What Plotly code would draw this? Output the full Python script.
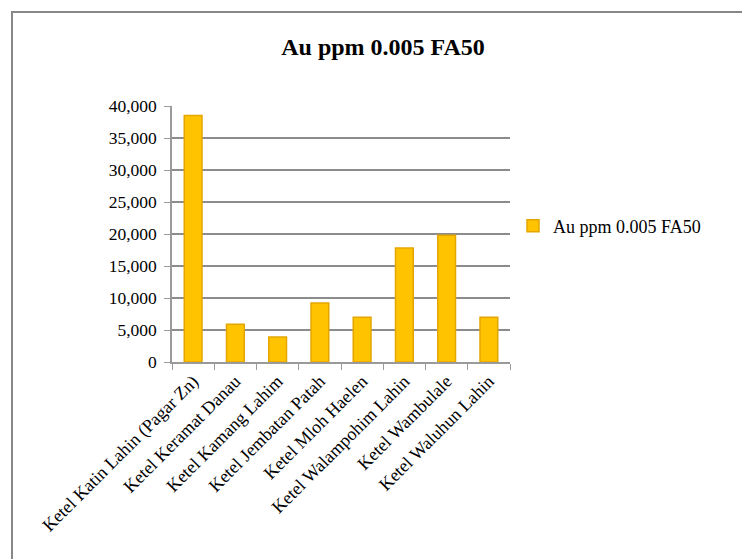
import plotly.graph_objects as go

categories = ["Ketel Katin Lahin (Pagar Zn)", "Ketel Keramat Danau", "Ketel Kamang Lahim",
              "Ketel Jembatan Patah", "Ketel Mloh Haelen", "Ketel Walampohim Lahin",
              "Ketel Wambulale", "Ketel Waluhun Lahin"]
values = [38500, 5900, 3900, 9200, 7000, 17800, 19800, 7000]
series_name = "Au ppm 0.005 FA50"
y_ticks = [0, 5000, 10000, 15000, 20000, 25000, 30000, 35000, 40000]
y_tick_labels = ["0", "5,000", "10,000", "15,000", "20,000", "25,000", "30,000", "35,000", "40,000"]

W, H = 742, 559
L, R, T, B = 172, 232, 106, 197
pw, ph = W - L - R, H - T - B

def px_x(p):
    return (p - L) / pw

def px_y(p):
    return (H - B - p) / ph

font = "Liberation Serif, Times New Roman, serif"

fig = go.Figure()
fig.add_trace(go.Bar(
    x=categories, y=values, name=series_name,
    marker=dict(color="#FFC300", line=dict(color="#E3A600", width=1.5)),
    showlegend=True,
))

fig.update_layout(
    width=W, height=H,
    margin=dict(l=L, r=R, t=T, b=B),
    paper_bgcolor="white", plot_bgcolor="white",
    bargap=0.58,
    font=dict(family=font, size=18, color="black"),
    title=dict(text="<b>" + series_name + "</b>", x=383 / W, xref="container",
               y=1 - 47 / H, yref="container", xanchor="center", yanchor="middle",
               font=dict(family=font, size=24, color="black")),
    showlegend=True,
    legend=dict(x=px_x(513), y=px_y(226), xref="paper", yref="paper",
                xanchor="left", yanchor="middle", itemwidth=30,
                font=dict(family=font, size=18, color="black"),
                bgcolor="rgba(0,0,0,0)"),
    xaxis=dict(type="category", showgrid=False, showline=True, linecolor="#9a9a9a",
               linewidth=1.5, ticks="outside", tickson="boundaries", tickcolor="#9a9a9a",
               ticklen=6, tickangle=-45, tickfont=dict(family=font, size=18)),
    yaxis=dict(range=[0, 40000], tickvals=y_ticks, ticktext=y_tick_labels,
               showgrid=True, gridcolor="#8c8c8c", gridwidth=1.5, showline=True,
               linecolor="#9a9a9a", linewidth=1.5, ticks="outside", tickcolor="#9a9a9a",
               ticklen=6, ticklabelstandoff=4, zeroline=False,
               tickfont=dict(family=font, size=17.5)),
    shapes=[dict(type="rect", xref="paper", yref="paper",
                 x0=px_x(12), x1=px_x(760), y0=px_y(12), y1=px_y(580),
                 line=dict(color="#878787", width=2), fillcolor="rgba(0,0,0,0)",
                 layer="above")],
)

fig.write_html("out.html")
